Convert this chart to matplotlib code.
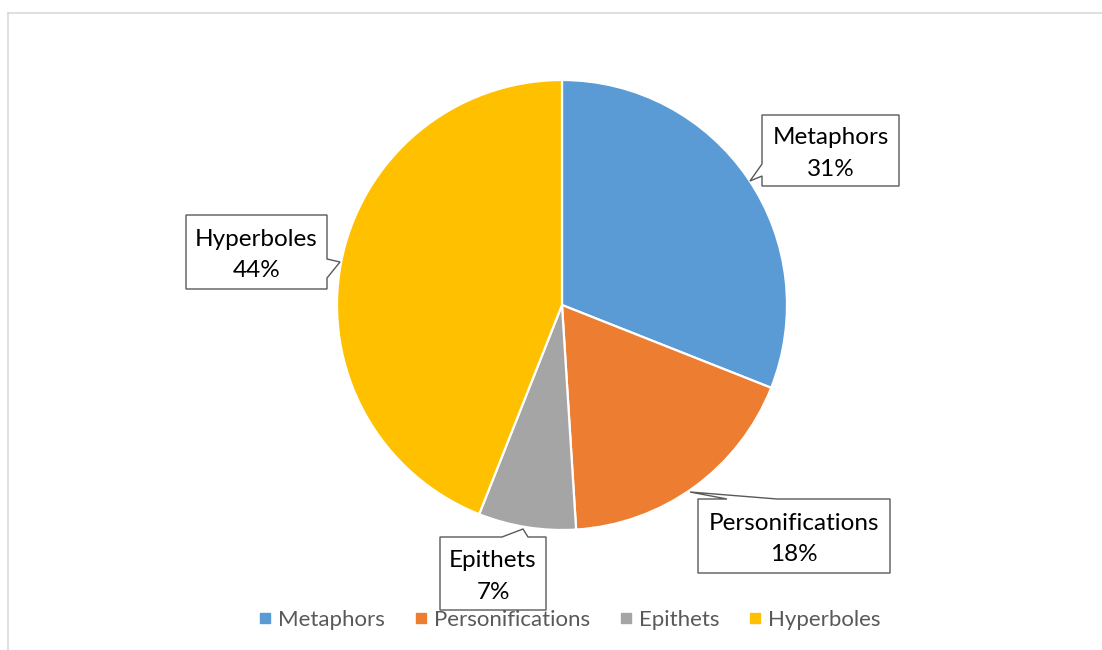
import matplotlib
matplotlib.use("Agg")
import matplotlib.pyplot as plt
from matplotlib.patches import Polygon
from matplotlib.lines import Line2D

categories = ["Metaphors", "Personifications", "Epithets", "Hyperboles"]
values = [31, 18, 7, 44]
colors = ["#5B9BD5", "#ED7D31", "#A5A5A5", "#FFC000"]

W, H = 1102, 650
FONT = "Lato"

fig = plt.figure(figsize=(W / 100, H / 100), dpi=100)
ax = fig.add_axes([0, 0, 1, 1])


def Y(y):
    return H - y


wedges, _ = ax.pie(values, colors=colors, startangle=90, counterclock=False,
                   center=(562, Y(305)), radius=225,
                   wedgeprops=dict(edgecolor="white", linewidth=1.6))
ax.set_xlim(0, W)
ax.set_ylim(0, H)
ax.set_aspect("equal")
ax.axis("off")

# chart frame
ax.add_line(Line2D([8, W], [Y(13), Y(13)], color="#D9D9D9", lw=1.2))
ax.add_line(Line2D([8, 8], [Y(13), 0], color="#D9D9D9", lw=1.2))

total = sum(values)
pcts = [f"{round(v * 100 / total)}%" for v in values]

# callout layouts: box (x0, y0, x1, y1) in pixel coords + outline with pointer
callouts = {
    "Metaphors": dict(box=(762, 115, 899, 186),
                      poly=[(762, 115), (899, 115), (899, 186), (762, 186),
                            (762, 176), (750, 181), (762, 164)]),
    "Hyperboles": dict(box=(186, 215, 327, 289),
                       poly=[(186, 215), (327, 215), (327, 259), (340, 262),
                             (327, 278), (327, 289), (186, 289)]),
    "Personifications": dict(box=(698, 499, 890, 573),
                             poly=[(698, 499), (727, 499), (690, 492),
                                   (777, 499), (890, 499), (890, 573),
                                   (698, 573)]),
    "Epithets": dict(box=(440, 537, 546, 610),
                     poly=[(440, 537), (502, 537), (523, 529), (528, 537),
                           (546, 537), (546, 610), (440, 610)]),
}

for cat, pct in zip(categories, pcts):
    c = callouts[cat]
    poly = Polygon([(x, Y(y)) for x, y in c["poly"]], closed=True,
                   facecolor="white", edgecolor="#595959", lw=1.0, zorder=5)
    ax.add_patch(poly)
    x0, y0, x1, y1 = c["box"]
    ax.text((x0 + x1) / 2, Y((y0 + y1) / 2 + 3), f"{cat}\n{pct}",
            ha="center", va="center", fontsize=17.5, family=FONT,
            color="black", linespacing=1.6, zorder=6)

handles = [Line2D([], [], marker="s", linestyle="none", markersize=7,
                  markerfacecolor=col, markeredgecolor=col) for col in colors]
leg = ax.legend(handles, categories, loc="center", ncol=4,
                bbox_to_anchor=(570 / W, 1 - 620 / H), frameon=False,
                prop=dict(family=FONT, size=16), handlelength=0.5,
                handletextpad=0.35, columnspacing=1.35, labelcolor="#595959",
                borderpad=0)
leg.set_zorder(4)

fig.savefig("out.png", dpi=100)
